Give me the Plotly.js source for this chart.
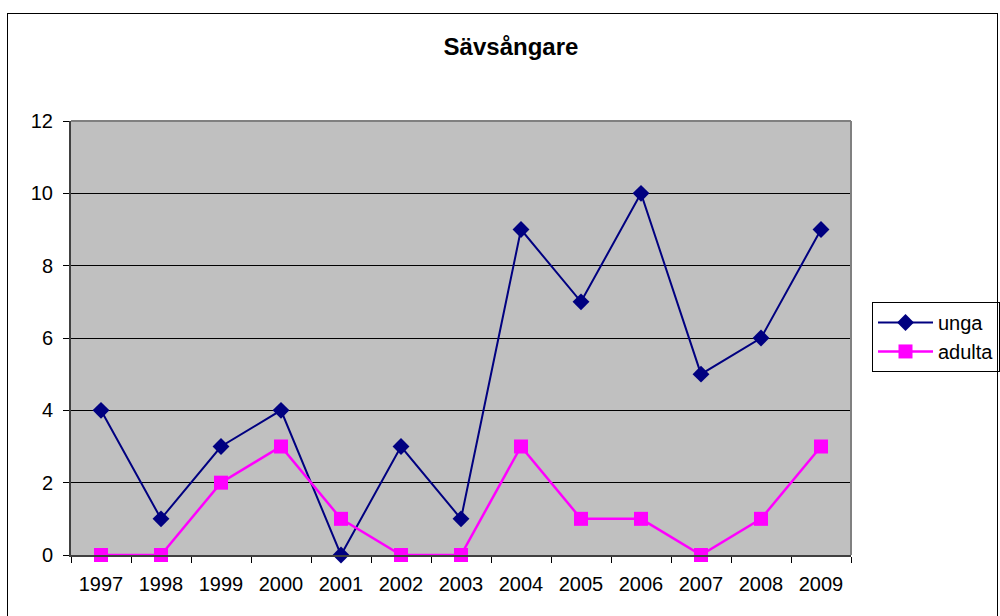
<!DOCTYPE html>
<html>
<head>
<meta charset="utf-8">
<script src="https://cdn.plot.ly/plotly-3.0.1.min.js"></script>
<style>
html,body{margin:0;padding:0;background:#fff;}
#wrap{position:relative;width:1000px;height:616px;overflow:hidden;}
#chart{width:1000px;height:616px;}
#frame{position:absolute;left:7px;top:13px;width:989px;height:610px;border:1px solid #000;pointer-events:none;}
</style>
</head>
<body>
<div id="wrap"><div id="chart"></div><div id="frame"></div></div>
<script>
const years = ['1997','1998','1999','2000','2001','2002','2003','2004','2005','2006','2007','2008','2009'];
const unga = [4,1,3,4,0,3,1,9,7,10,5,6,9];
const adulta = [0,0,2,3,1,0,0,3,1,1,0,1,3];

const font = {family:'Liberation Sans, Arial, sans-serif', size:20, color:'#000'};

const traces = [
  {x: years, y: unga, name: 'unga', type: 'scatter', mode: 'lines+markers',
   line: {color: '#000080', width: 2}, marker: {symbol: 'diamond', size: 13, color: '#000080'}, cliponaxis: false},
  {x: years, y: adulta, name: 'adulta', type: 'scatter', mode: 'lines+markers',
   line: {color: '#FF00FF', width: 2.5}, marker: {symbol: 'square', size: 14, color: '#FF00FF'}, cliponaxis: false}
];

const layout = {
  width: 1000, height: 616,
  margin: {l: 71, r: 149, t: 121, b: 61, pad: 0},
  paper_bgcolor: '#fff', plot_bgcolor: '#C0C0C0',
  font: font,
  title: {text: '<b>Sävsångare</b>', font: {family: font.family, size: 24, color: '#000'},
          x: 0.511, xref: 'container', xanchor: 'center', y: 0.924, yref: 'container', yanchor: 'middle'},
  xaxis: {type: 'category', tickson: 'boundaries', ticks: 'outside', ticklen: 6, tickcolor: '#000', tickwidth: 1,
          showline: true, linecolor: '#404040', linewidth: 2, showgrid: false, zeroline: false,
          mirror: false, tickfont: font, ticklabelstandoff: 10, range: [-0.5, 12.5], fixedrange: true},
  yaxis: {range: [0, 12], dtick: 2, ticks: 'outside', ticklen: 6, tickcolor: '#000', tickwidth: 1,
          showline: true, linecolor: '#404040', linewidth: 2, showgrid: true, gridcolor: '#000', gridwidth: 1,
          zeroline: false, tickfont: font, ticklabelstandoff: 6, fixedrange: true},
  shapes: [
    {type: 'line', xref: 'paper', yref: 'paper', x0: 0, x1: 1, y0: 1, y1: 1, line: {color: '#808080', width: 2}},
    {type: 'line', xref: 'paper', yref: 'paper', x0: 1, x1: 1, y0: 0, y1: 1, line: {color: '#808080', width: 2}}
  ],
  showlegend: true,
  legend: {x: 0.872, xref: 'container', y: 0.453, yref: 'container', xanchor: 'left', yanchor: 'middle',
           bordercolor: '#000', borderwidth: 1, bgcolor: '#fff', font: font, itemwidth: 55, tracegroupgap: 0}
};

Plotly.newPlot('chart', traces, layout, {displayModeBar: false, staticPlot: true});
</script>
</body>
</html>
